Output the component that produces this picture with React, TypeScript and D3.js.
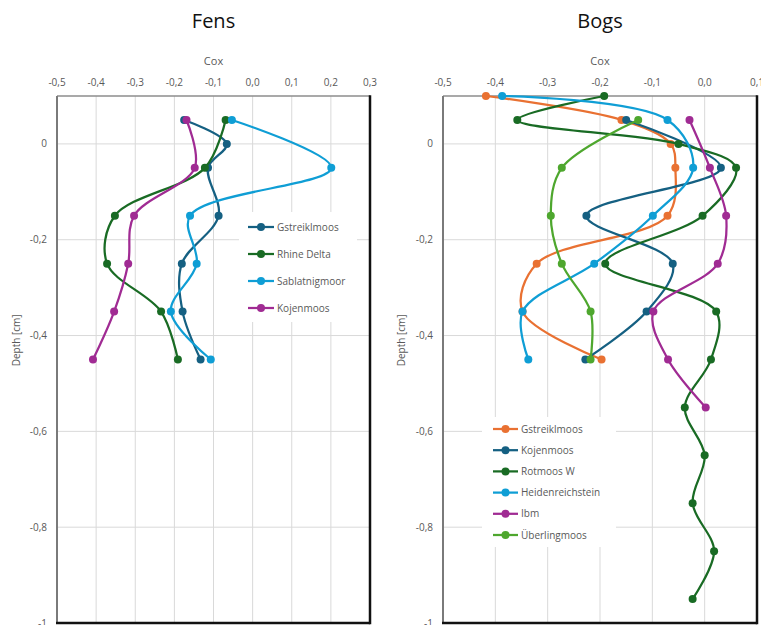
import React from "react";
import * as d3 from "d3";

// ---- Data -------------------------------------------------------------

const fensXTicks = [-0.5, -0.4, -0.3, -0.2, -0.1, 0, 0.1, 0.2, 0.3];
const bogsXTicks = [-0.5, -0.4, -0.3, -0.2, -0.1, 0, 0.1];
const depthTicks = [0, -0.2, -0.4, -0.6, -0.8, -1];

// Fens
const fensGstreiklmoosDepth = [0.05, 0, -0.05, -0.15, -0.25, -0.35, -0.45];
const fensGstreiklmoosCox = [-0.175, -0.066, -0.114, -0.087, -0.181, -0.179, -0.133];
const fensSixDepth = [0.05, -0.05, -0.15, -0.25, -0.35, -0.45];
const fensRhineDeltaCox = [-0.069, -0.122, -0.352, -0.372, -0.234, -0.191];
const fensSablatnigmoorCox = [-0.053, 0.201, -0.16, -0.143, -0.209, -0.107];
const fensKojenmoosCox = [-0.169, -0.148, -0.303, -0.318, -0.354, -0.408];

// Bogs
const bogsGstreiklmoosDepth = [0.1, 0.05, 0, -0.05, -0.15, -0.25, -0.35, -0.45];
const bogsGstreiklmoosCox = [-0.418, -0.159, -0.065, -0.056, -0.071, -0.321, -0.348, -0.197];
const bogsKojenmoosDepth = [0.05, -0.05, -0.15, -0.25, -0.35, -0.45];
const bogsKojenmoosCox = [-0.15, 0.031, -0.226, -0.061, -0.111, -0.228];
const bogsRotmoosDepth = [0.1, 0.05, 0, -0.05, -0.15, -0.25, -0.35, -0.45, -0.55, -0.65, -0.75, -0.85, -0.95];
const bogsRotmoosCox = [-0.192, -0.358, -0.05, 0.06, -0.004, -0.19, 0.022, 0.012, -0.038, 0.0, -0.023, 0.018, -0.023];
const bogsHeidenreichDepth = [0.1, 0.05, -0.05, -0.15, -0.25, -0.35, -0.45];
const bogsHeidenreichCox = [-0.387, -0.071, -0.022, -0.099, -0.211, -0.348, -0.337];
const bogsIbmDepth = [0.05, -0.05, -0.15, -0.25, -0.35, -0.45, -0.55];
const bogsIbmCox = [-0.029, 0.01, 0.041, 0.025, -0.098, -0.07, 0.002];
const bogsUeberlingDepth = [0.05, -0.05, -0.15, -0.25, -0.35, -0.45];
const bogsUeberlingCox = [-0.127, -0.273, -0.294, -0.273, -0.218, -0.218];

const C_BLUE_DARK = "#156082";
const C_ORANGE = "#E97132";
const C_GREEN_DARK = "#196B24";
const C_BLUE = "#0F9ED5";
const C_PURPLE = "#A02B93";
const C_GREEN = "#4EA72E";

type Series = { name: string; color: string; depth: number[]; cox: number[] };

const fensSeries: Series[] = [
  { name: "Gstreiklmoos", color: C_BLUE_DARK, depth: fensGstreiklmoosDepth, cox: fensGstreiklmoosCox },
  { name: "Rhine Delta", color: C_GREEN_DARK, depth: fensSixDepth, cox: fensRhineDeltaCox },
  { name: "Sablatnigmoor", color: C_BLUE, depth: fensSixDepth, cox: fensSablatnigmoorCox },
  { name: "Kojenmoos", color: C_PURPLE, depth: fensSixDepth, cox: fensKojenmoosCox },
];

const bogsSeries: Series[] = [
  { name: "Gstreiklmoos", color: C_ORANGE, depth: bogsGstreiklmoosDepth, cox: bogsGstreiklmoosCox },
  { name: "Kojenmoos", color: C_BLUE_DARK, depth: bogsKojenmoosDepth, cox: bogsKojenmoosCox },
  { name: "Rotmoos W", color: C_GREEN_DARK, depth: bogsRotmoosDepth, cox: bogsRotmoosCox },
  { name: "Heidenreichstein", color: C_BLUE, depth: bogsHeidenreichDepth, cox: bogsHeidenreichCox },
  { name: "Ibm", color: C_PURPLE, depth: bogsIbmDepth, cox: bogsIbmCox },
  { name: "Überlingmoos", color: C_GREEN, depth: bogsUeberlingDepth, cox: bogsUeberlingCox },
];

// ---- Rendering --------------------------------------------------------

const FONT = "'Open Sans', 'Noto Sans', Arial, sans-serif";
const GREY_TEXT = "#595959";
const GRID = "#d9d9d9";

const fmtX = (v: number) => v.toFixed(1).replace(".", ",");
const fmtY = (v: number) => (Math.abs(v - Math.round(v)) < 1e-9 ? String(Math.round(v)) : v.toFixed(1).replace(".", ","));

type PanelProps = {
  title: string;
  series: Series[];
  xTicks: number[];
  left: number;
  right: number;
  top: number;
  bottom: number;
  yLabelRight: number;
  yTitleX: number;
  legend: { x: number; y: number; w: number; h: number; firstY: number; step: number; lineX0: number; lineX1: number; textX: number };
};

function Panel(p: PanelProps) {
  const x = d3.scaleLinear().domain([p.xTicks[0], p.xTicks[p.xTicks.length - 1]]).range([p.left, p.right]);
  const y = d3.scaleLinear().domain([-1, 0.1]).range([p.bottom, p.top]);
  const line = d3
    .line<[number, number]>()
    .x((d) => x(d[0]))
    .y((d) => y(d[1]))
    .curve(d3.curveCatmullRom.alpha(0.5));
  const cx = (p.left + p.right) / 2;

  return (
    <g>
      <text x={cx} y={28} textAnchor="middle" fontSize={20} fill="#111" fontFamily={FONT}>
        {p.title}
      </text>
      <text x={cx} y={65} textAnchor="middle" fontSize={11} fill={GREY_TEXT} fontFamily={FONT}>
        Cox
      </text>

      {/* grid */}
      {p.xTicks.map((t) => (
        <line key={"gx" + t} x1={x(t)} x2={x(t)} y1={p.top} y2={p.bottom} stroke={GRID} strokeWidth={1} />
      ))}
      {depthTicks.map((t) => (
        <line key={"gy" + t} x1={p.left} x2={p.right} y1={y(t)} y2={y(t)} stroke={GRID} strokeWidth={1} />
      ))}

      {/* tick labels */}
      {p.xTicks.map((t) => (
        <text key={"tx" + t} x={x(t)} y={86} textAnchor="middle" fontSize={10} fill={GREY_TEXT} fontFamily={FONT}>
          {fmtX(t)}
        </text>
      ))}
      {depthTicks.map((t) => (
        <text key={"ty" + t} x={p.yLabelRight} y={y(t)} dy="0.35em" textAnchor="end" fontSize={10} fill={GREY_TEXT} fontFamily={FONT}>
          {fmtY(t)}
        </text>
      ))}
      <text
        transform={`translate(${p.yTitleX},${y(-0.41)}) rotate(-90)`}
        textAnchor="middle"
        fontSize={10}
        fill={GREY_TEXT}
        fontFamily={FONT}
      >
        Depth [cm]
      </text>

      {/* frame */}
      <line x1={p.left} x2={p.right} y1={p.top} y2={p.top} stroke="#8c8c8c" strokeWidth={1.5} />
      <line x1={p.left} x2={p.left} y1={p.top} y2={p.bottom} stroke="#7a7a7a" strokeWidth={2} />
      <line x1={p.right} x2={p.right} y1={p.top - 0.75} y2={p.bottom + 1.25} stroke="#111" strokeWidth={2.5} />
      <line x1={p.left - 1} x2={p.right} y1={p.bottom} y2={p.bottom} stroke="#111" strokeWidth={2.5} />

      {/* series */}
      {p.series.map((s) => {
        const pts: [number, number][] = s.cox.map((c, i) => [c, s.depth[i]]);
        return (
          <g key={s.name}>
            <path d={line(pts) || ""} fill="none" stroke={s.color} strokeWidth={2.25} strokeLinejoin="round" />
            {pts.map((d, i) => (
              <circle key={i} cx={x(d[0])} cy={y(d[1])} r={4} fill={s.color} />
            ))}
          </g>
        );
      })}

      {/* legend */}
      <rect x={p.legend.x} y={p.legend.y} width={p.legend.w} height={p.legend.h} fill="#fff" />
      {p.series.map((s, i) => {
        const ly = p.legend.firstY + i * p.legend.step;
        return (
          <g key={"lg" + s.name}>
            <line x1={p.legend.lineX0} x2={p.legend.lineX1} y1={ly} y2={ly} stroke={s.color} strokeWidth={2.25} />
            <circle cx={(p.legend.lineX0 + p.legend.lineX1) / 2} cy={ly} r={4} fill={s.color} />
            <text x={p.legend.textX} y={ly} dy="0.35em" fontSize={10} fill={GREY_TEXT} fontFamily={FONT}>
              {s.name}
            </text>
          </g>
        );
      })}
    </g>
  );
}

export default function App() {
  return (
    <svg width={761} height={625} style={{ position: "absolute", left: 0, top: 0, background: "#fff" }}>
      <rect width={761} height={625} fill="#fff" />
      <Panel
        title="Fens"
        series={fensSeries}
        xTicks={fensXTicks}
        left={57}
        right={370}
        top={96}
        bottom={623}
        yLabelRight={47}
        yTitleX={20}
        legend={{ x: 239, y: 212, w: 118, h: 110, firstY: 227, step: 27, lineX0: 248, lineX1: 274, textX: 277 }}
      />
      <Panel
        title="Bogs"
        series={bogsSeries}
        xTicks={bogsXTicks}
        left={443}
        right={757}
        top={96}
        bottom={623}
        yLabelRight={433}
        yTitleX={405}
        legend={{ x: 482, y: 417, w: 134, h: 130, firstY: 429, step: 21.2, lineX0: 493, lineX1: 518, textX: 521 }}
      />
    </svg>
  );
}
